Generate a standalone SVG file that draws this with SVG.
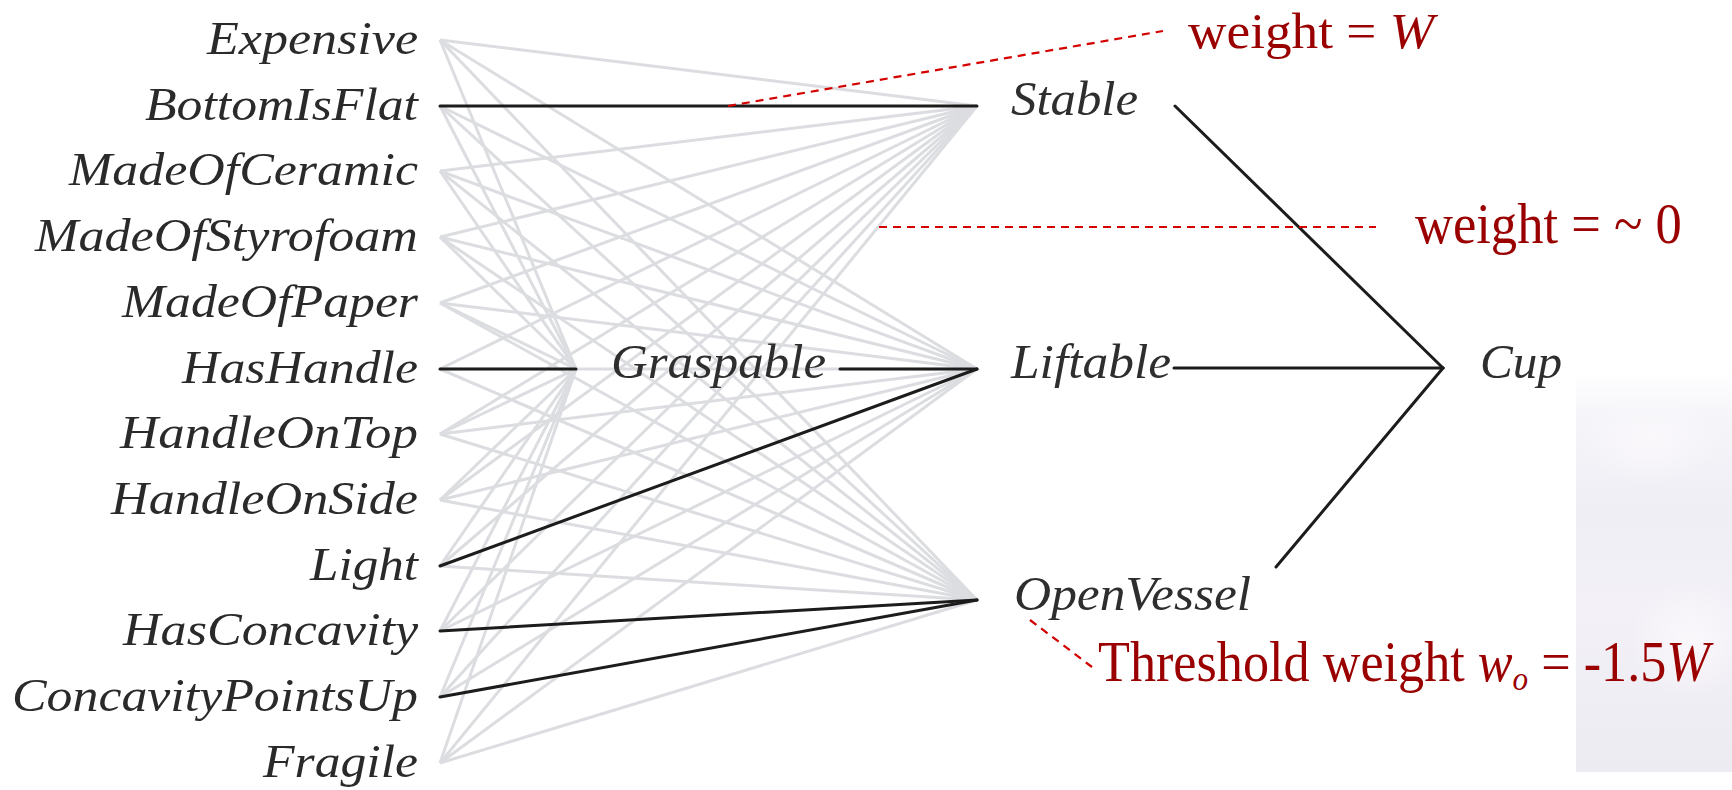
<svg xmlns="http://www.w3.org/2000/svg" width="1732" height="790" viewBox="0 0 1732 790">
<defs>
<style>
.g{stroke:#dcdde0;stroke-width:3;fill:none}
.k{stroke:#1c1c1c;stroke-width:3;fill:none;stroke-linecap:round}
.r{stroke:#d40000;stroke-width:2.2;stroke-dasharray:8 6;fill:none}
.in{font-family:"Liberation Serif",serif;font-style:italic;font-size:46px;fill:#2a2a2a}
.hid{font-family:"Liberation Serif",serif;font-style:italic;font-size:48px;fill:#2e2e2e}
.ann{font-family:"Liberation Serif",serif;font-size:57px;fill:#9a0000}
.ann.top{font-size:51px}
.it{font-style:italic}
</style>
<linearGradient id="bg" x1="0" y1="0" x2="0" y2="1">
<stop offset="0" stop-color="#ffffff"/>
<stop offset="0.1" stop-color="#f6f5f9"/>
<stop offset="0.35" stop-color="#efeef5"/>
<stop offset="0.6" stop-color="#f3f1f7"/>
<stop offset="1" stop-color="#ecebf2"/>
</linearGradient>
<radialGradient id="blob" cx="0.5" cy="0.5" r="0.5">
<stop offset="0" stop-color="#faf8fb"/>
<stop offset="1" stop-color="#faf8fb" stop-opacity="0"/>
</radialGradient>
</defs>
<rect width="1732" height="790" fill="#ffffff"/>
<g id="background">
<rect x="1576" y="372" width="156" height="400" fill="url(#bg)"/>
<ellipse cx="1650" cy="440" rx="70" ry="45" fill="url(#blob)"/>
<ellipse cx="1690" cy="640" rx="60" ry="60" fill="url(#blob)"/>
</g>
<g id="connectors">
<g class="g">
<line x1="440" y1="40" x2="576" y2="369"/><line x1="440" y1="40" x2="977" y2="106"/><line x1="440" y1="40" x2="977" y2="369"/><line x1="440" y1="40" x2="977" y2="600"/>
<line x1="440" y1="106" x2="576" y2="369"/><line x1="440" y1="106" x2="977" y2="369"/><line x1="440" y1="106" x2="977" y2="600"/>
<line x1="440" y1="171" x2="576" y2="369"/><line x1="440" y1="171" x2="977" y2="106"/><line x1="440" y1="171" x2="977" y2="369"/><line x1="440" y1="171" x2="977" y2="600"/>
<line x1="440" y1="237" x2="576" y2="369"/><line x1="440" y1="237" x2="977" y2="106"/><line x1="440" y1="237" x2="977" y2="369"/><line x1="440" y1="237" x2="977" y2="600"/>
<line x1="440" y1="303" x2="576" y2="369"/><line x1="440" y1="303" x2="977" y2="106"/><line x1="440" y1="303" x2="977" y2="369"/><line x1="440" y1="303" x2="977" y2="600"/>
<line x1="440" y1="369" x2="977" y2="106"/><line x1="440" y1="369" x2="977" y2="369"/><line x1="440" y1="369" x2="977" y2="600"/>
<line x1="440" y1="434" x2="576" y2="369"/><line x1="440" y1="434" x2="977" y2="106"/><line x1="440" y1="434" x2="977" y2="369"/><line x1="440" y1="434" x2="977" y2="600"/>
<line x1="440" y1="500" x2="576" y2="369"/><line x1="440" y1="500" x2="977" y2="106"/><line x1="440" y1="500" x2="977" y2="369"/><line x1="440" y1="500" x2="977" y2="600"/>
<line x1="440" y1="566" x2="576" y2="369"/><line x1="440" y1="566" x2="977" y2="106"/><line x1="440" y1="566" x2="977" y2="600"/>
<line x1="440" y1="631" x2="576" y2="369"/><line x1="440" y1="631" x2="977" y2="106"/><line x1="440" y1="631" x2="977" y2="369"/>
<line x1="440" y1="697" x2="576" y2="369"/><line x1="440" y1="697" x2="977" y2="106"/><line x1="440" y1="697" x2="977" y2="369"/>
<line x1="440" y1="763" x2="576" y2="369"/><line x1="440" y1="763" x2="977" y2="106"/><line x1="440" y1="763" x2="977" y2="369"/><line x1="440" y1="763" x2="977" y2="600"/>
</g>
<g class="k">
<line x1="440" y1="106" x2="977" y2="106"/>
<line x1="440" y1="369" x2="576" y2="369"/>
<line x1="440" y1="566" x2="977" y2="369"/>
<line x1="440" y1="631" x2="977" y2="600"/>
<line x1="440" y1="697" x2="977" y2="600"/>
<line x1="840" y1="369" x2="977" y2="369"/>
<line x1="1175" y1="106" x2="1443" y2="368"/>
<line x1="1174" y1="368" x2="1443" y2="368"/>
<line x1="1276" y1="567" x2="1443" y2="368"/>
</g>
<g class="r">
<line x1="728" y1="106" x2="1163" y2="31"/>
<line x1="879" y1="227" x2="1376" y2="227"/>
<line x1="1030" y1="620" x2="1092" y2="667"/>
</g>
</g>
<g id="inputs">
<g id="n-expensive"><text class="in" x="207" y="54" textLength="211" lengthAdjust="spacingAndGlyphs">Expensive</text></g>
<g id="n-bottomisflat"><text class="in" x="145" y="120" textLength="273" lengthAdjust="spacingAndGlyphs">BottomIsFlat</text></g>
<g id="n-madeofceramic"><text class="in" x="69" y="185" textLength="349" lengthAdjust="spacingAndGlyphs">MadeOfCeramic</text></g>
<g id="n-madeofstyrofoam"><text class="in" x="35" y="251" textLength="383" lengthAdjust="spacingAndGlyphs">MadeOfStyrofoam</text></g>
<g id="n-madeofpaper"><text class="in" x="122" y="317" textLength="296" lengthAdjust="spacingAndGlyphs">MadeOfPaper</text></g>
<g id="n-hashandle"><text class="in" x="182" y="383" textLength="236" lengthAdjust="spacingAndGlyphs">HasHandle</text></g>
<g id="n-handleontop"><text class="in" x="120" y="448" textLength="298" lengthAdjust="spacingAndGlyphs">HandleOnTop</text></g>
<g id="n-handleonside"><text class="in" x="111" y="514" textLength="307" lengthAdjust="spacingAndGlyphs">HandleOnSide</text></g>
<g id="n-light"><text class="in" x="310" y="580" textLength="108" lengthAdjust="spacingAndGlyphs">Light</text></g>
<g id="n-hasconcavity"><text class="in" x="123" y="645" textLength="295" lengthAdjust="spacingAndGlyphs">HasConcavity</text></g>
<g id="n-concavitypointsup"><text class="in" x="12" y="711" textLength="406" lengthAdjust="spacingAndGlyphs">ConcavityPointsUp</text></g>
<g id="n-fragile"><text class="in" x="263" y="777" textLength="155" lengthAdjust="spacingAndGlyphs">Fragile</text></g>
</g>
<g id="hidden">
<g id="n-graspable"><text class="hid" x="611" y="378" textLength="215" lengthAdjust="spacingAndGlyphs">Graspable</text></g>
<g id="n-stable"><text class="hid" x="1011" y="115" textLength="127" lengthAdjust="spacingAndGlyphs">Stable</text></g>
<g id="n-liftable"><text class="hid" x="1011" y="378" textLength="160" lengthAdjust="spacingAndGlyphs">Liftable</text></g>
<g id="n-openvessel"><text class="hid" x="1014" y="610" textLength="237" lengthAdjust="spacingAndGlyphs">OpenVessel</text></g>
</g>
<g id="output">
<g id="n-cup"><text class="hid" x="1480" y="378" textLength="82" lengthAdjust="spacingAndGlyphs">Cup</text></g>
</g>
<g id="annotations">
<text class="ann top" transform="translate(1188,48) scale(1.045,1)">weight = <tspan class="it">W</tspan></text>
<text class="ann" transform="translate(1415,243) scale(0.922,1)">weight = ~ 0</text>
<text class="ann" transform="translate(1098,681) scale(0.916,1)">Threshold weight <tspan class="it">w</tspan><tspan class="it" font-size="34" dy="9">o</tspan><tspan dy="-9"> = -1.5</tspan><tspan class="it">W</tspan></text>
</g>
</svg>
